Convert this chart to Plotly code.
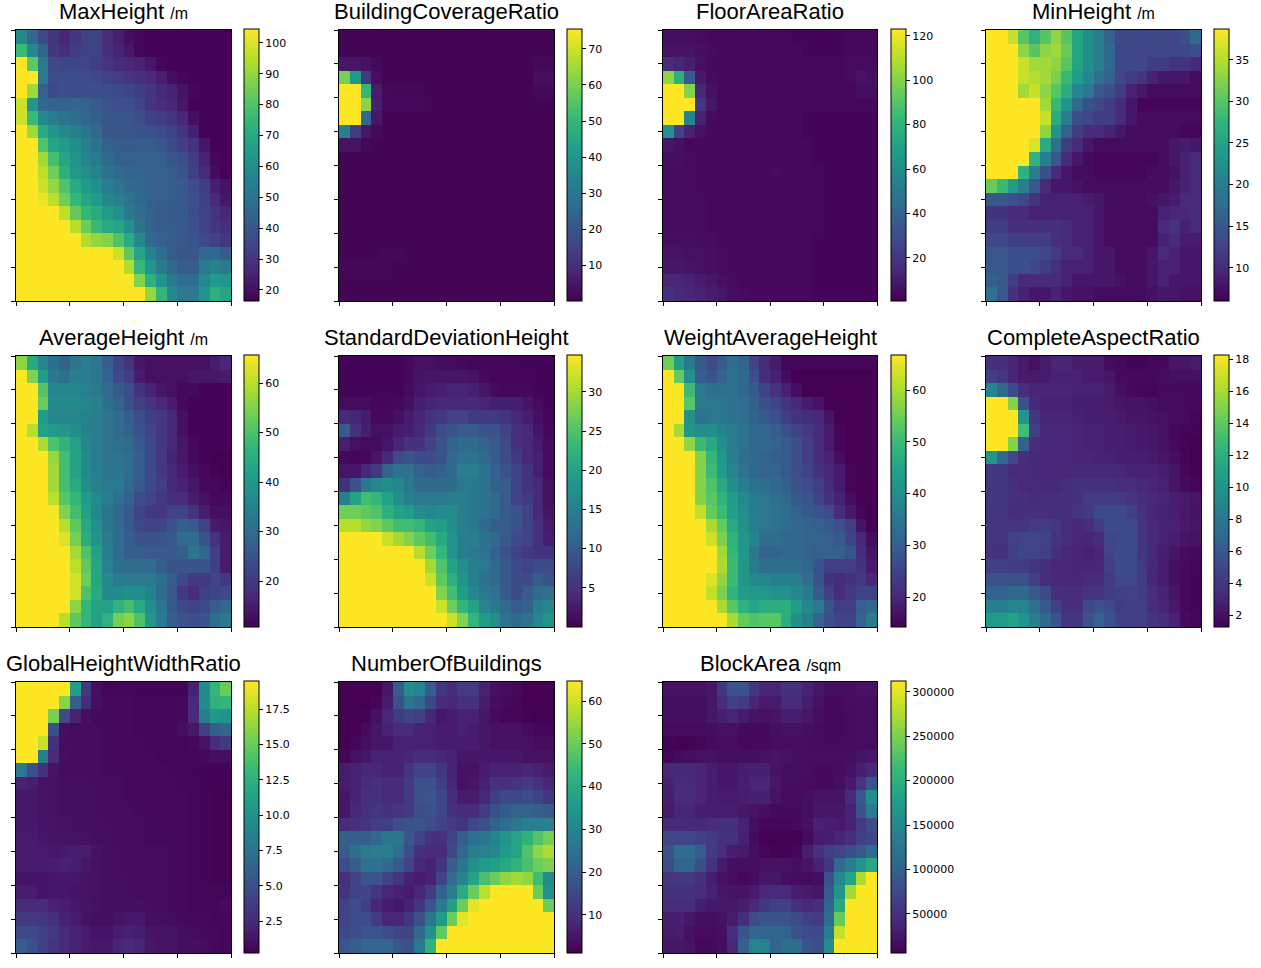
import plotly.graph_objects as go

# Values, 20 x 20 cells, top row first
max_height = [
    [58,46,36,30,26,30,34,34,28,24,20,18,17,17,17,17,17,17,17,17],
    [76,58,44,31,28,32,34,34,28,25,22,18,17,17,17,17,17,17,17,17],
    [105,82,52,36,35,35,35,33,30,27,26,25,22,18,17,17,17,17,17,17],
    [105,105,52,37,37,37,37,36,34,33,30,29,27,24,20,18,17,17,17,17],
    [105,92,44,36,38,38,38,38,37,36,35,32,30,27,25,21,18,17,17,17],
    [98,62,46,44,44,45,44,41,39,38,38,35,30,28,26,22,17,17,17,17],
    [98,76,58,53,50,48,46,43,40,40,40,38,34,32,30,26,20,17,17,17],
    [105,92,70,62,58,54,50,46,40,40,40,39,38,36,34,30,24,17,17,17],
    [105,105,80,68,65,60,54,50,44,42,41,42,42,40,36,33,29,22,17,17],
    [105,105,92,78,68,62,56,52,47,44,43,44,44,43,40,37,32,25,18,17],
    [105,105,96,85,72,63,60,56,50,47,45,45,44,43,42,39,33,27,19,17],
    [105,105,98,90,80,70,64,60,54,51,47,46,44,43,42,41,37,32,24,21],
    [105,105,102,96,85,75,68,64,58,54,50,46,44,43,42,41,38,33,27,22],
    [105,105,105,105,96,83,75,70,65,60,52,48,44,42,41,41,37,34,30,26],
    [105,105,105,105,105,95,84,76,70,68,60,50,44,42,42,41,38,34,31,28],
    [105,105,105,105,105,105,94,90,88,80,70,58,46,44,42,41,40,36,34,31],
    [105,105,105,105,105,105,105,105,105,98,82,68,56,48,42,40,40,46,46,42],
    [105,105,105,105,105,105,105,105,105,105,94,75,62,52,47,42,42,52,56,52],
    [105,105,105,105,105,105,105,105,105,105,105,88,72,62,52,48,48,58,64,62],
    [105,105,105,105,105,105,105,105,105,105,105,105,90,74,58,52,52,62,72,68],
]
building_coverage = [
    [1,1,1,1,1,1,1,1,1,1,1,1,1,1,1,1,1,1,1,1],
    [1,1,1,1,1,1,1,1,1,1,1,1,1,1,1,1,1,1,1,1],
    [5,5,4,2,1,1,1,1,1,1,1,1,1,1,1,1,1,1,2,2],
    [60,40,13,3,1,1,1,1,1,1,1,1,1,1,1,1,1,1,3,3],
    [76,76,50,6,2,1.5,1.5,1.5,1,1,1,1,1,1,1,1,1,1,2,2],
    [76,76,62,7,2,2,2,2,1,1,1,1,1,1,1,1,1,1,1,1],
    [76,76,25,5,1,1,1,1,1,1,1,1,1,1,1,1,1,1,1,1],
    [33,14,5,2,1,1,1,1,1,1,1,1,1,1,1,1,1,1,1,1],
    [4,4,1.5,1,1,1,1,1,1,1,1,1,1,1,1,1,1,1,1,1],
    [1,1,1,1,1,1,1,1,1,1,1,1,1,1,1,1,1,1,1,1],
    [1,1,1,1,1,1,1,1,1,1,1,1,1,1,1,1,1,1,1,1],
    [1,1,1,1,1,1,1,1,1,1,1,1,1,1,1,1,1,1,1,1],
    [1,1,1,1,1,1,1,1,1,1,1,1,1,1,1,1,1,1,1,1],
    [1,1,1,1,1,1,1,1,1,1,1,1,1,1,1,1,1,1,1,1],
    [1,1,1,1,1,1,1,1,1,1,1,1,1,1,1,1,1,1,1,1],
    [1,1,1,1,1,1,1,1,1,1,1,1,1,1,1,1,1,1,1,1],
    [1,1,1,1,1.5,1.5,1,1,1,1,1,1,1,1,1,1,1,1,1,1],
    [1.5,1.5,1.5,1.5,1.5,1,1,1,1,1,1,1,1,1,1,1,1,1,1,1],
    [1,1,1,1,1,1,1,1,1,1,1,1,1,1,1,1,1,1,1,1],
    [1,1,1,1,1,1,1,1,1,1,1,1,1,1,1,1,1,1,1,1],
]
floor_area = [
    [5,5,5,4,3,3,3,3,3,3,3,3,2,2,2,2,2,3,3,3],
    [7,7,7,5,4,3,3,3,3,3,3,3,3,2,2,2,2,3,3,3],
    [16,13,11,6,3,3,3,3,3,3,3,3,3,3,3,3,3,4,4,4],
    [102,78,35,9,4,3,3,3,3,3,3,3,3,3,3,3,3,4,7,6],
    [124,124,100,14,6,3,3,3,3,3,3,3,3,3,3,3,3,3,5,5],
    [124,124,124,20,8,3,3,3,3,3,3,3,3,3,3,3,3,3,3,3],
    [124,124,55,12,4,3,3,3,3,3,3,3,3,2,2,2,2,2,2,2],
    [62,25,12,6,3,3,3,3,3,3,3,3,3,2,2,2,2,2,2,2],
    [8,6,3,3,3,3,3,3,3,3,3,3,3,3,2,2,2,2,2,2],
    [5,5,4,3,3,3,3,3,3,3,3,3,3,3,2,2,2,2,2,2],
    [4,4,4,3,3,3,3,3,3,3,4,3,3,3,3,2,2,2,2,2],
    [4,4,4,3,3,3,3,3,3,3,3,3,3,3,3,2,2,2,2,2],
    [4,4,4,4,3,3,3,3,3,3,3,3,3,3,3,2,2,2,2,2],
    [4,4,4,4,3,3,3,3,3,3,3,3,3,3,3,2,2,2,2,2],
    [4,4,4,4,3,3,3,3,3,3,3,3,3,3,3,2,2,2,2,2],
    [5,5,5,4,4,3,3,3,3,3,3,3,3,3,2,2,2,2,2,2],
    [7,7,6,6,5,4,3,3,3,3,3,3,3,3,2,2,2,2,2,2],
    [8,8,7,6,5,4,3,3,3,3,3,3,3,3,2,2,2,2,2,2],
    [14,13,12,10,8,6,4,3,3,3,3,3,3,3,2,2,2,2,2,2],
    [18,15,14,12,10,8,5,4,3,3,3,3,3,3,2,2,2,2,2,2],
]
min_height = [
    [39,39,36,30,27,30,33,30,25,22,20,16,13,13,13,13,13,13,14,17],
    [39,39,39,33,30,33,34,31,25,22,20,17,13,13,13,13,13,13,13,14],
    [39,39,39,36,34,34,33,30,25,22,20,17,13,13,13,12,12,11,11,10],
    [39,39,39,36,35,34,32,28,24,21,18,16,13,12,11,9,8,8,8,7],
    [39,39,39,34,36,33,30,26,21,19,15,14,12,9,8,7,7,7,7,7],
    [39,39,39,39,39,34,28,23,17,14,13,12,10,8,6.5,6.5,6.5,6.5,6.5,6.5],
    [39,39,39,39,39,36,26,20,14,13,12,12,10,8,7,7,7,7,7,7],
    [39,39,39,39,39,33,23,16,12,10,10,9,8,7,7,7,7,7,6.5,6.5],
    [39,39,39,39,37,26,18,12,10,8,7,7,7,7,7,7,7,8,8.5,8],
    [39,39,39,39,27,20,15,10,8,7,6.5,6.5,6.5,6.5,6.5,6.5,7,8,9,10],
    [39,39,39,27,20,14,10,8,7,7,6.5,6.5,6.5,6.5,6.5,7,7,7.5,9,10],
    [31,28,24,20,15,10,8,8,7.5,7,7,7,7,7,7,7,7,8,9,10],
    [15,15,14,13,11,9,9,9,9,8.5,8,7,7,7,7,7.5,8,8.5,10,10],
    [11,11,10,10,9,9,9,9,9,9,8,7,7,7,7,7,9,9.5,9.5,10],
    [12,12,10.5,10.5,10.5,10.5,10.5,10,9,9,8,7,7,7,7,7,10,11,9,10],
    [13,13,12,12,12,12,10.5,10,9,9,8,7,7,7,7,7,9,10,8.5,8.5],
    [15,15,14,14,14,13,12,10,10,9,8,8,7,7,7,8,10,9,8,8],
    [15,15,14,14,13,12,10.5,9,9,9,8,8,7,7,7,8,9,9,8,8],
    [16,15,12,10,10,10,10,9,8,8,8,8,7.5,7,7,8,9,8,8,8],
    [18,15,11,9,8,8,9,8,7.5,7.5,7,7,7,7,7,7.5,8,8,7.5,7.5],
]
average_height = [
    [56,44,36,31,28,32,34,32,27,22,19,14,13,13,13,13,13,13,15,17],
    [66,55,41,33,31,34,34,32,28,23,21,15,13,13,13,13,14,14,14,15],
    [66,66,51,36,36,36,35,33,30,26,24,19,16,14,13,12,12,11,11,11],
    [66,66,53,37,37,37,36,35,31,28,24,21,19,17,15,12,11,11,11,11],
    [66,66,41,36,36,36,35,34,32,30,27,24,21,20,17,13,11,11,11,11],
    [66,60,42,41,40,38,35,34,32,30,28,25,22,20,17,13,11,11,11,11],
    [66,66,59,50,46,42,36,34,32,31,29,26,23,20,17,14,12,11,11,11],
    [66,66,66,57,49,42,37,34,32,32,30,27,23,20,16,14,12,11,10.5,10.5],
    [66,66,66,58,49,42,37,34,32,32,30,27,23,20,17,15,13,12,11,10.5],
    [66,66,66,58,49,44,38,35,33,33,29,26,23,21,17,16,14,12,12,11],
    [66,66,66,60,51,47,41,37,34,31,28,24,22,20,18,18,15,13,12,12],
    [66,66,66,65,55,49,42,36,32,29,26,22,20,20,22,22,19,15,13,13],
    [66,66,66,66,60,52,44,38,32,30,26,23,22,22,25,27,26,22,15,14],
    [66,66,66,66,63,54,45,39,33,30,27,25,25,25,26,30,30,25,19,15],
    [66,66,66,66,66,58,50,42,34,30,27,27,26,26,26,27,32,29,21,15],
    [66,66,66,66,66,60,52,43,35,31,30,30,30,27,25,25,25,25,21,15],
    [66,66,66,66,66,62,53,43,37,33,33,33,33,31,27,23,20,20,22,20],
    [66,66,66,66,66,62,50,44,37,37,38,38,35,30,26,20,18,21,22,23],
    [66,66,66,66,66,56,47,42,42,46,49,44,38,32,26,23,22,23,27,29],
    [66,66,66,66,60,52,47,42,46,54,56,50,40,33,27,25,24,25,30,33],
]
std_height = [
    [.3,.3,.3,.3,.3,.3,.7,1.5,1.5,1,1,.7,.5,.5,.5,.5,.5,.3,.3,.3],
    [.3,.3,.3,.3,.3,.3,.7,1.7,2,2,2,2,1.7,.7,.5,.5,.5,.5,.3,.3],
    [.3,.3,.3,.3,.3,.3,1,2,2.5,3,3.5,3.5,3,2,1,.7,.7,.7,.3,.3],
    [1,1,1,.5,.5,.7,1.5,3,3.5,4,4,4,4,3.5,3,3,3,2,1,.3],
    [4,3.5,2.5,.7,.7,1.5,2.5,3.5,5,6,7,7,6,6,6,5,4,3,1.5,.5],
    [10,5,3,1.5,1.5,2.5,3,4,6,8,9,10,10,9,9,7,5,4,2,.7],
    [3,1.5,1,1,2,3.5,5,5,7,9,11,12,12,11,10,8,5,4,2.5,1],
    [.7,.5,.7,2,4,8,9,8,8,9,12,13,13,12,10,8,6,4,3,1],
    [2,2,4,6,11,13,13,11,10,11,12,15,15,13,11,9,7,5,3,1],
    [5,9,14,16,17,16,14,12,12,12,12,14,14,13,11,10,7,5,4,1.5],
    [15,20,24,23,20,17,15,14,14,14,15,15,14,13,12,10,7,6,4,1.5],
    [27,27,26,25,22,20,19,17,16,17,17,15,14,13,12,10,9,7,4,2],
    [31,31,29,28,26,24,24,23,20,19,17,15,14,12,10,10,9,7,5,2.5],
    [35,35,35,35,32,30,28,26,24,21,18,15,15,13,12,10,8,7,5,3],
    [35,35,35,35,35,35,35,31,27,23,18,15,14,13,11,9,7,6,5,5],
    [35,35,35,35,35,35,35,35,30,25,20,17,15,14,12,10,8,7,8,8],
    [35,35,35,35,35,35,35,35,32,26,22,18,15,13,12,10,8,8,10,9],
    [35,35,35,35,35,35,35,35,35,28,24,19,16,14,13,10,8,10,12,13],
    [35,35,35,35,35,35,35,35,35,32,27,23,20,16,14,12,10,11,15,16],
    [35,35,35,35,35,35,35,35,35,35,32,28,23,19,17,13,12,13,16,18],
]
weight_height = [
    [55,44,35,29,26,29,33,31,25,21,18,15,15,15,15,15,15,15,15,15],
    [67,54,40,30,28,31,34,32,27,21,19,16,14,14,14,14,14,14,14,14],
    [67,67,50,35,33,33,34,32,29,25,22,19,16,14,14,14,14,14,14,14],
    [67,67,53,35,35,35,34,33,30,27,25,22,20,18,17,14,14,14,14,14],
    [67,67,41,34,35,35,34,33,31,29,27,24,22,21,20,17,14,14,14,14],
    [67,60,42,40,40,38,36,34,32,32,30,27,25,23,21,18,15,14,14,14],
    [67,67,58,50,46,40,36,34,32,32,31,29,27,24,21,18,15,14,14,14],
    [67,67,67,57,49,42,37,33,32,31,30,29,27,24,21,19,16,14,14,14],
    [67,67,67,57,50,43,38,34,32,31,31,29,27,25,22,20,18,15,14,14],
    [67,67,67,57,52,46,40,37,34,33,32,30,28,26,24,21,18,15,14,14],
    [67,67,67,57,53,48,43,39,36,35,33,32,29,28,25,22,19,16,14,14],
    [67,67,67,62,54,50,44,40,36,35,34,33,31,29,28,26,21,18,15,14],
    [67,67,67,67,60,54,46,41,37,35,34,33,32,31,30,29,27,24,17,14],
    [67,67,67,67,63,56,48,42,38,33,33,32,32,31,31,30,29,25,20,16],
    [67,67,67,67,67,59,49,42,35,31,31,32,32,31,30,30,30,28,21,17],
    [67,67,67,67,67,60,50,42,36,33,33,33,33,32,28,24,24,24,22,18],
    [67,67,67,67,64,58,50,42,39,38,37,37,36,33,28,22,21,22,23,20],
    [67,67,67,67,62,56,48,43,42,42,41,41,39,36,29,24,21,23,25,25],
    [67,67,67,67,67,60,53,48,45,47,47,47,43,39,35,28,24,24,30,32],
    [67,67,67,67,67,67,60,54,52,53,53,47,40,37,31,27,25,25,31,36],
]
aspect_ratio = [
    [3.5,3.5,3,2.5,2,2.5,3,3,2.5,2.5,2.5,1.8,1.6,1.4,1.4,1.6,1.6,2.3,2.3,2.5],
    [4.5,4,3,2.5,2.5,2.5,2.8,2.8,2.8,2.5,2.5,2.2,1.7,1.6,1.6,1.6,1.8,2,2,2],
    [9,7,5,3.5,3,3,3,3,2.8,2.8,2.8,2.5,2,1.7,1.5,1.5,1.7,1.7,1.7,1.7],
    [18.5,18.5,15,5.5,3.2,2.8,2.8,2.8,2.7,2.6,2.6,2.5,2.2,2.1,2.1,2,1.8,1.8,1.7,1.7],
    [18.5,18.5,18.5,10,4,3,3,3,2.8,2.7,2.6,2.6,2.4,2.2,2.2,2.1,2,1.8,1.7,1.5],
    [18.5,18.5,18.5,13,4.5,3.2,3.2,3.2,3,2.9,2.8,2.7,2.6,2.5,2.4,2.3,2,1.6,1.5,1.4],
    [18.5,18.5,15,6.5,3.5,3.2,3.2,3.2,3,2.9,2.8,2.7,2.6,2.5,2.4,2.3,2,1.7,1.4,1.3],
    [10,7,5,3.5,3.2,3.2,3.2,3.2,3,3,2.9,2.8,2.7,2.7,2.6,2.5,2.2,1.9,1.5,1.3],
    [4,4,3.3,3.3,3.2,3.2,3.2,3.1,3.2,3.2,3.2,3.2,3.1,2.9,2.8,2.8,2.6,2.2,1.6,1.3],
    [4,4,3.6,3.3,3.3,3.2,3.2,3.5,3.7,3.7,3.7,3.7,3.4,3.4,3.2,3,2.8,2.2,1.8,1.5],
    [4,4,3.7,3.6,3.3,3.4,3.4,3.5,3.7,4.2,4.2,4.2,4.2,3.8,3.5,3.2,3,2.7,2.5,2.2],
    [3.9,3.9,3.5,3.6,3.6,3.6,3.5,3.5,3.8,4.2,5,5,5,4.5,3.7,3,2.9,2.7,2.4,2.1],
    [3.8,3.8,3.9,3.9,4.3,4.3,4,3.5,3.2,3.5,4.3,5.2,5.2,5,3.8,3.2,2.9,2.8,2.4,2.2],
    [3.8,3.8,4.6,4.8,4.8,4.6,3.8,3.4,3.1,3,3.3,4.8,5,5,3.9,3.2,2.8,2.6,2.2,2.1],
    [3.7,3.7,4.5,4.8,4.8,4.5,3.6,3.1,3,2.8,3,4.8,5.2,5.2,4,3.2,2.7,2.2,1.8,1.6],
    [4.5,4.5,4.3,4.3,3.9,3.5,3.1,3.1,3,3,3.1,4.4,5.2,5.2,4.2,3.2,2.6,2,1.7,1.5],
    [5.5,5.5,5.5,5.5,4.5,3.5,3.2,3.1,3.1,3.3,3.3,4.2,5,5,4.2,3,2.6,2,1.6,1.4],
    [6.5,6.5,7,7,6,5,3.6,3.4,3.5,3.8,3.8,4.3,4.5,4.6,4.2,3.4,2.9,2.2,1.6,1.4],
    [8.5,8.5,9,9,7.5,6,4.5,3.6,3.6,5,5.5,5,4.3,4.5,4.5,3.5,3,2.4,1.6,1.4],
    [10.5,10.5,11,10,8.5,7,5.5,4,4,5.5,6.5,5.5,4.5,4.5,4.5,3.8,3.5,2.8,1.8,1.5],
]
height_width = [
    [20,20,20,20,20,11,3.5,1,.5,.5,.5,.4,.4,.4,.4,.4,2,9.5,13,15],
    [20,20,20,20,16,6,2.5,1,.6,.6,.6,.5,.5,.5,.5,.6,2.5,9.5,12.5,13],
    [20,20,20,15.5,4.5,2,1,.7,.7,.7,.6,.5,.5,.5,.5,.6,2.5,8.5,10.5,10],
    [20,20,20,5,1,.8,.8,.8,.7,.7,.6,.5,.5,.5,.5,1,1.5,4,6,6.5],
    [20,20,18,3,.9,.8,.8,.8,.7,.7,.6,.6,.5,.5,.5,.5,.6,1.2,2.8,3.5],
    [20,20,8.5,2.5,1,.8,.8,.8,.7,.7,.7,.6,.6,.5,.5,.5,.5,.7,1,1],
    [8,5,3,1.2,.8,.8,.8,.8,.7,.7,.7,.6,.6,.6,.5,.5,.4,.4,.4,.4],
    [2,1.8,1.2,1.1,1,1,.9,.9,.8,.8,.7,.7,.7,.7,.6,.5,.5,.4,.4,.4],
    [1.5,1.5,1.2,1.1,1,1,1,.9,.8,.8,.7,.7,.7,.7,.6,.6,.5,.4,.3,.3],
    [1.5,1.5,1.3,1.1,1,1,1,.9,.8,.8,.8,.7,.7,.7,.6,.6,.5,.4,.3,.3],
    [1.5,1.5,1.3,1.2,1.1,1,1,.9,.9,.8,.8,.8,.7,.7,.7,.6,.5,.4,.3,.3],
    [1.6,1.6,1.4,1.3,1.2,1.2,1.1,1,.9,.8,.8,.8,.7,.7,.7,.6,.5,.4,.3,.3],
    [1.7,1.7,1.6,1.5,1.6,1.8,1.8,1.2,1,.9,.8,.8,.8,.8,.7,.6,.5,.4,.3,.3],
    [1.6,1.7,1.6,1.8,2,1.9,1.4,1.1,1,.9,.8,.8,.8,.8,.7,.6,.5,.4,.3,.3],
    [1.3,1.3,1.3,1.4,1.5,1.4,1.2,1.1,1,.9,.9,.8,.8,.8,.7,.6,.5,.4,.3,.3],
    [1.8,1.7,1.3,1.4,1.4,1.3,1.2,1.1,1,.9,.9,.8,.8,.8,.7,.6,.5,.5,.5,.4],
    [2.5,2.5,2.5,2,1.8,1.5,1.3,1.1,1,1,1,1,.9,.8,.7,.6,.5,.5,.5,.8],
    [3.5,3.5,3.3,2.8,2,1.6,1.2,1,1,1.3,1.5,1.5,1,1,.8,.7,.7,.6,.5,.5],
    [4.5,4.5,4,3.5,2.5,2,1.7,1.3,1.3,1.8,2,1.9,1.3,1.2,1.2,.9,.8,.7,.6,.5],
    [6,5,4,3.2,2.5,2,1.7,1.5,1.5,2.2,2.5,2.2,1.5,1.2,1.3,1,1,.8,.6,.5],
]
number_buildings = [
    [1,1,1,1,5,20,32,30,20,11,9,12,12,7,4,3,2.5,1,1,1],
    [1,1,1,2,6,17,26,22,15,9,8,10,10,6,3.5,2.5,2,1,1,1],
    [1,1,1.5,4,8,12,14,13,8,5,6,7,7,5,3,2,2,1.5,1,1],
    [1,1,3,5,7,9,9,7,7,6,6,7,6,5,4,4,4,3,2,2],
    [1,2,3.5,5,5,7,7,7,7,6,6,6,6,5,4,4,4,4,3,3],
    [2,4,5,7,7,7,8,9,9,8,7,5,5,5,5,5,5,4,4,4],
    [6,7,8,8,7,7,11,14,14,11,7,4,4,6,7,7,7,8,7,6],
    [6,7,9,10,9,9,12,17,17,13,8,4,5,7,10,10,11,12,10,8],
    [5,7,10,10,9,9,12,17,18,15,9,6,6,8,13,15,15,16,14,11],
    [5,8,10,11,10,11,12,16,17,15,10,9,9,12,16,19,21,21,20,19],
    [9,10,11,13,13,16,17,18,16,14,12,11,15,17,21,24,26,28,29,29],
    [20,20,20,22,26,26,18,14,10,10,14,20,24,26,30,34,38,42,47,51],
    [20,24,27,28,28,24,16,10,9,9,15,22,28,29,31,36,38,47,54,57],
    [16,20,25,25,23,19,14,8,7,11,20,26,33,36,37,39,42,46,50,52],
    [10,14,18,18,14,11,7,6,7,14,24,30,38,46,50,54,56,54,45,32],
    [11,14,14,11,8,7,6,8,12,21,28,40,50,58,65,65,65,65,50,33],
    [14,16,13,8,6,5,7,11,18,27,37,50,62,65,65,65,65,65,65,50],
    [14,16,16,12,8,8,11,17,26,36,50,62,65,65,65,65,65,65,65,65],
    [15,16,18,18,16,14,14,22,33,49,65,65,65,65,65,65,65,65,65,65],
    [18,20,22,22,22,18,17,27,42,65,65,65,65,65,65,65,65,65,65,65],
]
# thousands of sqm
block_area_k = [
    [20,20,20,20,25,55,85,85,55,38,38,48,48,35,24,18,18,17,20,20],
    [18,18,18,18,24,45,65,60,38,28,28,42,42,30,20,14,14,16,17,17],
    [18,18,18,18,24,32,38,28,22,20,22,30,30,24,18,13,13,15,17,17],
    [15,15,14,15,16,20,20,14,13,14,18,20,20,18,15,13,13,15,17,17],
    [9,7,7,10,14,16,16,12,12,14,16,16,16,16,15,14,14,15,16,16],
    [10,15,18,20,20,18,18,18,18,20,22,20,17,16,16,16,16,18,22,25],
    [40,40,40,37,30,25,25,30,33,33,22,18,18,16,14,14,15,20,32,40],
    [35,42,42,37,30,25,25,32,37,37,25,16,16,14,14,14,18,28,52,85],
    [32,42,42,37,30,28,28,30,33,33,22,15,15,18,22,22,22,42,90,155],
    [28,38,38,32,30,30,30,25,22,18,14,14,14,18,25,25,25,35,85,130],
    [42,42,42,40,45,48,48,35,18,10,10,10,12,20,35,32,28,35,60,75],
    [70,70,70,65,60,52,50,35,15,6,5,5,5,15,28,30,38,45,65,70],
    [85,115,115,95,60,45,30,28,18,10,7,7,10,30,50,65,70,80,90,110],
    [80,105,105,80,50,28,18,18,18,20,20,20,18,22,35,55,110,135,165,190],
    [55,58,58,50,32,20,16,13,15,24,24,18,15,15,18,85,150,185,275,312],
    [50,52,52,45,35,25,22,22,28,40,42,40,30,28,25,95,165,270,312,312],
    [45,45,45,32,26,26,26,30,40,55,65,65,50,40,48,105,190,312,312,312],
    [30,32,25,18,18,20,30,45,75,85,85,85,75,65,60,115,240,312,312,312],
    [28,30,20,15,15,17,45,85,105,105,105,105,85,75,75,135,285,312,312,312],
    [25,25,22,13,13,18,40,100,145,140,105,115,115,85,80,155,312,312,312,312],
]
block_area = [[v * 1000 for v in row] for row in block_area_k]

titles = [
    'MaxHeight <span style="font-size:16px">/m</span>',
    'BuildingCoverageRatio',
    'FloorAreaRatio',
    'MinHeight <span style="font-size:16px">/m</span>',
    'AverageHeight <span style="font-size:16px">/m</span>',
    'StandardDeviationHeight',
    'WeightAverageHeight',
    'CompleteAspectRatio',
    'GlobalHeightWidthRatio',
    'NumberOfBuildings',
    'BlockArea <span style="font-size:16px">/sqm</span>',
]
grids = [max_height, building_coverage, floor_area, min_height,
         average_height, std_height, weight_height, aspect_ratio,
         height_width, number_buildings, block_area]
z_low = [16.4, 0.2, 0.6, 6, 10.7, 0, 14.2, 1.25, 0.24, 1.1, 6000]
z_high = [104.5, 75.5, 123, 38.7, 65.7, 34.7, 66.8, 18.25, 19.5, 64.7, 312000]
bar_ticks = [
    [20, 30, 40, 50, 60, 70, 80, 90, 100],
    [10, 20, 30, 40, 50, 60, 70],
    [20, 40, 60, 80, 100, 120],
    [10, 15, 20, 25, 30, 35],
    [20, 30, 40, 50, 60],
    [5, 10, 15, 20, 25, 30],
    [20, 30, 40, 50, 60],
    [2, 4, 6, 8, 10, 12, 14, 16, 18],
    [2.5, 5, 7.5, 10, 12.5, 15, 17.5],
    [10, 20, 30, 40, 50, 60],
    [50000, 100000, 150000, 200000, 250000, 300000],
]
bar_formats = ['d', 'd', 'd', 'd', 'd', 'd', 'd', 'd', '.1f', 'd', 'd']
x_ticks = [0, 5, 10, 15, 20]
y_ticks = [0, 2.5, 5, 7.5, 10, 12.5, 15, 17.5, 20]

WIDTH = 1261
HEIGHT = 968
# left / right of each column and top / bottom of each row, in page pixels
# NOTE: plotly draws the axis lines outside the domain, hence the odd widths
col_edges = [(16, 231), (339, 554), (663, 877), (986, 1201)]
row_edges = [(30, 301), (356, 627), (682, 953)]
bar_lefts = [244, 567, 891, 1214]
BAR_W = 15

fig = go.Figure()
annotations = []

for i, grid in enumerate(grids):
    for row in grid:
        if len(row) != 20:
            raise ValueError(f'{i}: row has {len(row)} cells')

    left, right = col_edges[i % 4]
    top, bottom = row_edges[i // 4]
    n = i + 1
    suffix = '' if n == 1 else str(n)

    fig.add_trace(go.Heatmap(
        z=grid,
        x0=0.5, dx=1,
        y0=0.5, dy=1,
        xaxis=f'x{suffix}',
        yaxis=f'y{suffix}',
        zmin=z_low[i],
        zmax=z_high[i],
        colorscale='Viridis',
        colorbar=dict(
            x=bar_lefts[i % 4] / WIDTH,
            xanchor='left',
            xpad=0,
            y=1 - bottom / HEIGHT,
            yanchor='bottom',
            ypad=0,
            len=(bottom - top + 1) / HEIGHT,
            thickness=BAR_W,
            outlinewidth=1,
            outlinecolor='black',
            tickmode='array',
            tickvals=bar_ticks[i],
            tickformat=bar_formats[i],
            # nbsp pushes the labels off the tick marks
            tickprefix='\u00a0',
            ticks='outside',
            ticklen=4,
            tickwidth=1,
            tickcolor='black',
            tickfont=dict(family='DejaVu Sans', size=11, color='black'),
        ),
    ))

    fig.update_layout({
        f'xaxis{suffix}': dict(
            domain=[left / WIDTH, right / WIDTH],
            range=[0, 20],
            anchor=f'y{suffix}',
            tickmode='array',
            tickvals=x_ticks,
            showticklabels=False,
            ticks='outside',
            ticklen=4,
            tickcolor='black',
            showgrid=False,
            zeroline=False,
            showline=True,
            linecolor='black',
            linewidth=1,
            mirror=True,
        ),
        f'yaxis{suffix}': dict(
            domain=[1 - bottom / HEIGHT, 1 - top / HEIGHT],
            range=[20, 0],
            anchor=f'x{suffix}',
            tickmode='array',
            tickvals=y_ticks,
            showticklabels=False,
            ticks='outside',
            ticklen=4,
            tickcolor='black',
            showgrid=False,
            zeroline=False,
            showline=True,
            linecolor='black',
            linewidth=1,
            mirror=True,
        ),
    })

    annotations.append(dict(
        text=titles[i],
        x=(left + right) / 2 / WIDTH,
        y=1 - (top - 4) / HEIGHT,
        xref='paper',
        yref='paper',
        xanchor='center',
        yanchor='bottom',
        showarrow=False,
        font=dict(family='Liberation Sans', size=22, color='black'),
    ))

fig.update_layout(
    width=WIDTH,
    height=HEIGHT,
    margin=dict(l=0, r=0, t=0, b=0),
    paper_bgcolor='white',
    plot_bgcolor='white',
    annotations=annotations,
)

# NOTE: the page body has a default margin that would shift everything by 8px
fig.write_html(
    "out.html",
    config=dict(displayModeBar=False),
    post_script="document.body.style.margin='0';",
)
